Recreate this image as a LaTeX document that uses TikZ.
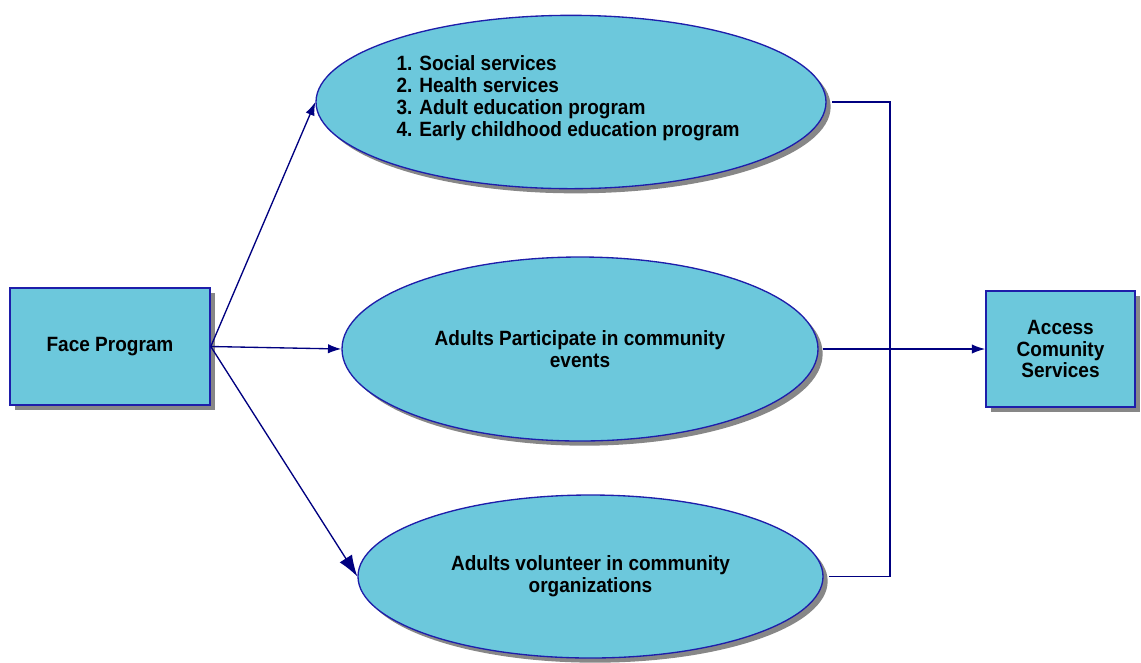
\documentclass[tikz,border=0pt]{standalone}
\usepackage{fontspec}
\setmainfont[FakeStretch=0.92]{Liberation Sans}
\usetikzlibrary{shapes.geometric,arrows.meta,shadows}
\definecolor{boxfill}{RGB}{108,200,220}
\definecolor{boxline}{RGB}{30,30,170}
\definecolor{connc}{RGB}{0,0,128}
\definecolor{shadec}{RGB}{135,135,135}
\begin{document}
\begin{tikzpicture}[x=0.75pt,y=-0.75pt,
  shad/.style={drop shadow={shadow xshift=3.5pt,shadow yshift=-3.5pt,fill=shadec,opacity=1}},
  lbl/.style={font=\fontsize{15.5}{16.4}\selectfont\bfseries},
  rectbox/.style={draw=boxline,line width=1.2pt,fill=boxfill,shad,rectangle,inner sep=0pt,align=center,lbl},
  ellbox/.style={draw=boxline,line width=1pt,fill=boxfill,shad,ellipse,inner sep=0pt,align=center,lbl},
  conn/.style={draw=connc,line width=1pt},
  arr/.style={conn,-{Latex[length=10pt,width=7pt]}},
  bigarr/.style={conn,-{Latex[length=16pt,width=11pt]}}
]
\useasboundingbox (0,0) rectangle (1141,662);
\node[rectbox,minimum width=150pt,minimum height=88pt] (face) at (110,346.5) {Face Program};
\node[rectbox,minimum width=111.75pt,minimum height=87pt] (access) at (1060.5,349) {Access\\Comunity\\Services};
\node[ellbox,minimum width=382.5pt,minimum height=130pt] (top) at (571,102) {};
\node[lbl,align=left,inner sep=0pt] (toptext) at (568,98) {1. Social services\\2. Health services\\3. Adult education program\\4. Early childhood education program};
\node[ellbox,minimum width=357pt,minimum height=138pt] (mid) at (580,349) {Adults Participate in community\\events};
\node[ellbox,minimum width=348.75pt,minimum height=122.25pt] (bot) at (590.5,576.5) {Adults volunteer in community\\organizations};
\coordinate (j) at (890,350);
\draw[arr] (face.east) -- (top.west);
\draw[arr] (face.east) -- (mid.west);
\draw[bigarr] (face.east) -- (bot.west);
\draw[conn] ([xshift=4pt]top.east) -| (j) |- ([xshift=4pt]bot.east);
\draw[arr] ([xshift=3pt]mid.east) -- (access.west);
\end{tikzpicture}
\end{document}
